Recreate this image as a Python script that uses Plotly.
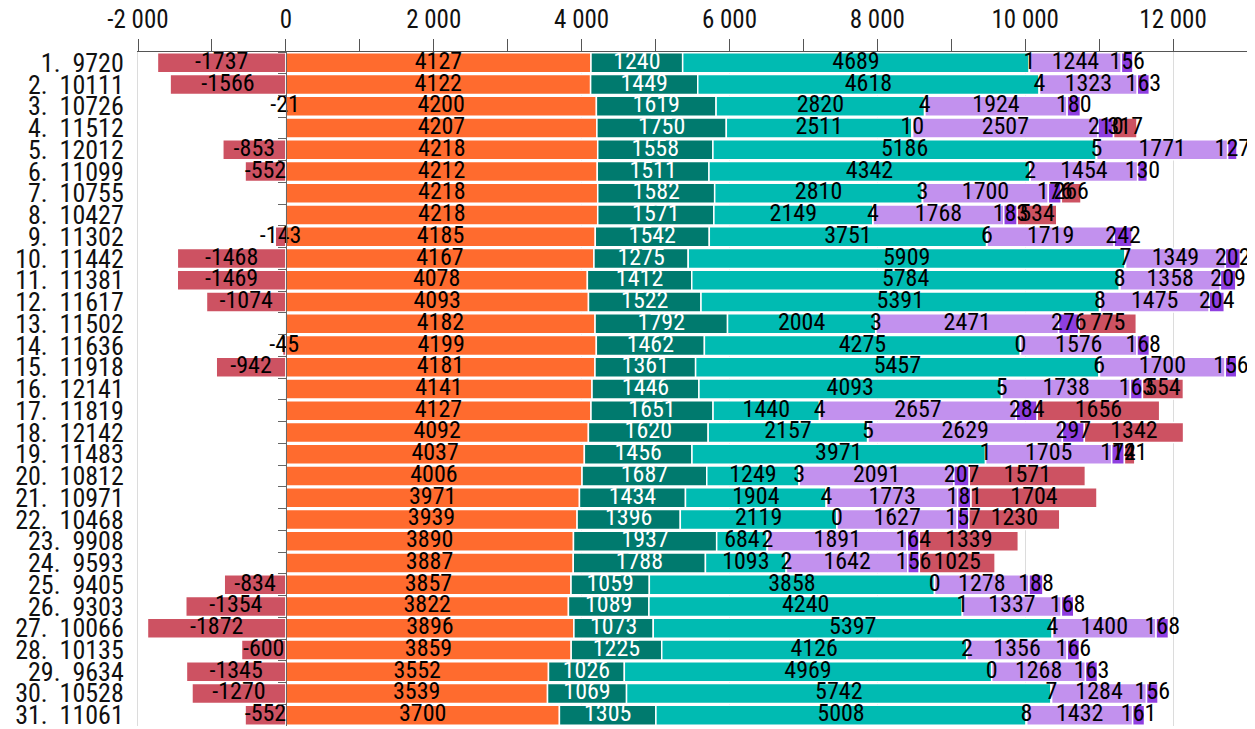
import plotly.graph_objects as go

totals = [9720, 10111, 10726, 11512, 12012, 11099, 10755, 10427, 11302, 11442,
          11381, 11617, 11502, 11636, 11918, 12141, 11819, 12142, 11483, 10812,
          10971, 10468, 9908, 9593, 9405, 9303, 10066, 10135, 9634, 10528, 11061]
categories = [f"{i+1}.  {t}" for i, t in enumerate(totals)]

orange = [4127, 4122, 4200, 4207, 4218, 4212, 4218, 4218, 4185, 4167, 4078, 4093, 4182, 4199, 4181,
          4141, 4127, 4092, 4037, 4006, 3971, 3939, 3890, 3887, 3857, 3822, 3896, 3859, 3552, 3539, 3700]
dark_teal = [1240, 1449, 1619, 1750, 1558, 1511, 1582, 1571, 1542, 1275, 1412, 1522, 1792, 1462, 1361,
             1446, 1651, 1620, 1456, 1687, 1434, 1396, 1937, 1788, 1059, 1089, 1073, 1225, 1026, 1069, 1305]
teal = [4689, 4618, 2820, 2511, 5186, 4342, 2810, 2149, 3751, 5909, 5784, 5391, 2004, 4275, 5457,
        4093, 1440, 2157, 3971, 1249, 1904, 2119, 684, 1093, 3858, 4240, 5397, 4126, 4969, 5742, 5008]
small = [1, 4, 4, 10, 5, 2, 3, 4, 6, 7, 8, 8, 3, 0, 6,
         5, 4, 5, 1, 3, 4, 0, 2, 2, 0, 1, 4, 2, 0, 7, 8]
light_purple = [1244, 1323, 1924, 2507, 1771, 1454, 1700, 1768, 1719, 1349, 1358, 1475, 2471, 1576, 1700,
                1738, 2657, 2629, 1705, 2091, 1773, 1627, 1891, 1642, 1278, 1337, 1400, 1356, 1268, 1284, 1432]
dark_purple = [156, 163, 180, 210, 127, 130, 176, 183, 242, 202, 209, 204, 276, 168, 156,
               163, 284, 297, 172, 207, 181, 157, 164, 156, 188, 168, 168, 166, 163, 156, 161]
red = [-1737, -1566, -21, 317, -853, -552, 266, 534, -143, -1468, -1469, -1074, 775, -45, -942,
       554, 1656, 1342, 141, 1571, 1704, 1230, 1339, 1025, -834, -1354, -1872, -600, -1345, -1270, -552]

tick_vals = [-2000, 0, 2000, 4000, 6000, 8000, 10000, 12000]
tick_text = ["-2 000", "0", "2 000", "4 000", "6 000", "8 000", "10 000", "12 000"]

FONT = "'Liberation Sans Narrow', 'Roboto Condensed', 'DejaVu Sans Condensed', 'Open Sans', sans-serif"

series = [
    ("orange", orange, "#FF6B2E", "black"),
    ("dark_teal", dark_teal, "#007A6E", "white"),
    ("teal", teal, "#00BBB2", "black"),
    ("small", small, "#E8C547", "black"),
    ("light_purple", light_purple, "#C291EE", "black"),
    ("dark_purple", dark_purple, "#8F3FE0", "black"),
    ("red", red, "#CD5262", "black"),
]

fig = go.Figure()
for name, vals, color, tcolor in series:
    fig.add_trace(go.Bar(
        y=categories, x=vals, orientation="h", name=name,
        marker=dict(color=color, line=dict(color="white", width=1.5)),
        showlegend=False, hoverinfo="x+y+name",
    ))

# value labels drawn above all bars, at the middle of each stacked segment
n = len(categories)
pos_base = [0.0] * n
neg_base = [0.0] * n
for name, vals, color, tcolor in series:
    centers = []
    for i, v in enumerate(vals):
        if v >= 0:
            centers.append(pos_base[i] + v / 2)
            pos_base[i] += v
        else:
            centers.append(neg_base[i] + v / 2)
            neg_base[i] += v
    fig.add_trace(go.Scatter(
        y=categories, x=centers, mode="text", text=[str(v) for v in vals],
        textposition="middle center",
        textfont=dict(color=tcolor, size=24, family=FONT),
        cliponaxis=False, showlegend=False, hoverinfo="skip",
    ))

# invisible trace to carry the zero-line axis with boundary ticks
fig.add_trace(go.Scatter(
    y=categories, x=[0] * n, yaxis="y2", mode="markers",
    marker=dict(opacity=0), showlegend=False, hoverinfo="skip",
))

zero_pos = (0 - (-2000)) / (13000 - (-2000))

fig.update_layout(
    width=1247, height=721,
    barmode="relative", bargap=0.08,
    margin=dict(l=130, r=8, t=44, b=3, autoexpand=False),
    plot_bgcolor="white", paper_bgcolor="white",
    font=dict(family=FONT, color="#111"),
    xaxis=dict(
        side="top", range=[-2000, 13000], tickvals=tick_vals, ticktext=tick_text,
        tickfont=dict(size=25, family=FONT, color="#111"), automargin=False,
        showgrid=True, gridcolor="#dcdcdc", gridwidth=1, zeroline=False,
        showline=True, linecolor="#555", linewidth=1,
        ticks="outside", ticklen=12, tickcolor="#555", ticklabelstandoff=1,
        minor=dict(ticks="outside", dtick=1000, tick0=0, ticklen=12, tickcolor="#555", showgrid=False),
    ),
    yaxis=dict(
        type="category", categoryorder="array", categoryarray=categories,
        tickmode="array", tickvals=categories, ticktext=categories,
        range=[n - 0.5, -0.5], automargin=False,
        tickfont=dict(size=26, family=FONT, color="#111"),
        ticks="", showline=True, linecolor="#dcdcdc", showgrid=False, zeroline=False,
        ticklabelstandoff=8,
    ),
    yaxis2=dict(
        type="category", categoryorder="array", categoryarray=categories,
        range=[n - 0.5, -0.5], automargin=False,
        overlaying="y", anchor="free", position=zero_pos, side="left",
        showticklabels=False, showline=True, linecolor="#666", linewidth=1,
        ticks="outside", tickson="boundaries", ticklen=8, tickcolor="#666",
        showgrid=False, zeroline=False,
    ),
)

fig.write_html("out.html")
